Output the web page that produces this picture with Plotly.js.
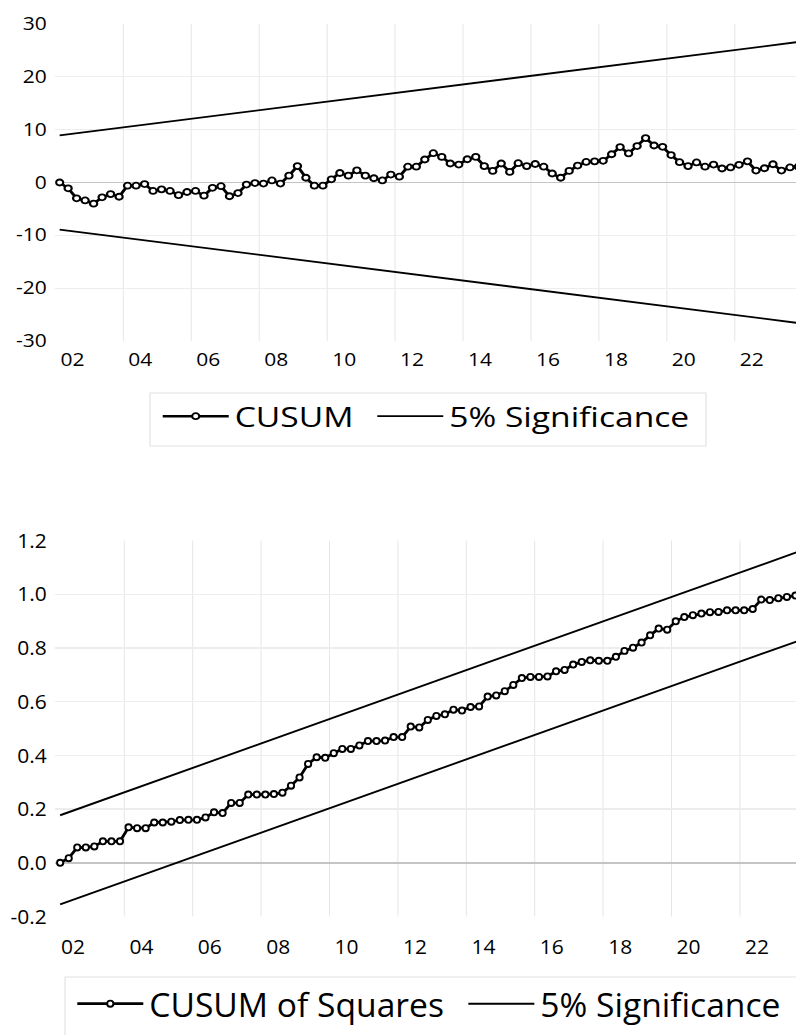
<!DOCTYPE html>
<html>
<head>
<meta charset="utf-8">
<script src="https://cdn.plot.ly/plotly-3.0.1.min.js"></script>
<style>
html,body{margin:0;padding:0;background:#fff;overflow:hidden;width:796px;height:1035px;position:relative}
#top{position:absolute;left:0;top:0;transform-origin:0 0;transform:scale(1.2,1)}
#bot{position:absolute;left:0;top:470px;transform-origin:0 0;transform:scale(1.2,1.175)}
</style>
</head>
<body>
<div id="top"></div>
<div id="bot"></div>
<script>
// ---- data (quarterly, 2002Q1 .. 2023Q4) ----
const startYear = 2002;
const nQuarters = 88;

const cusum = [
  0.0, -1.1, -3.0, -3.4, -4.0, -2.8, -2.2, -2.7, -0.6, -0.6,
  -0.3, -1.6, -1.3, -1.6, -2.4, -1.8, -1.6, -2.5, -1.0, -0.7,
  -2.6, -2.0, -0.4, -0.1, -0.2, 0.4, -0.2, 1.3, 3.1, 0.9,
  -0.6, -0.6, 0.6, 1.8, 1.3, 2.3, 1.3, 0.8, 0.4, 1.5,
  1.1, 3.0, 3.0, 4.35, 5.55, 4.85, 3.6, 3.4, 4.4, 4.85,
  3.1, 2.2, 3.6, 2.0, 3.65, 3.1, 3.5, 3.0, 1.7, 0.9,
  2.2, 3.2, 3.9, 4.0, 4.1, 5.35, 6.7, 5.5, 6.9, 8.4,
  7.0, 6.75, 5.2, 3.85, 3.1, 3.8, 3.0, 3.4, 2.65, 2.85,
  3.35, 4.0, 2.25, 2.7, 3.45, 2.25, 2.85, 3.0
];
const cusumUpper = [8.9, 26.6];
const cusumLower = [-8.9, -26.6];

const cusumSq = [
  0.000, 0.017, 0.057, 0.057, 0.061, 0.080, 0.080, 0.080, 0.132, 0.129,
  0.129, 0.150, 0.150, 0.153, 0.159, 0.160, 0.160, 0.169, 0.188, 0.185,
  0.223, 0.223, 0.254, 0.254, 0.254, 0.256, 0.261, 0.287, 0.318, 0.368,
  0.393, 0.391, 0.408, 0.424, 0.424, 0.437, 0.453, 0.453, 0.455, 0.468,
  0.468, 0.507, 0.504, 0.532, 0.547, 0.553, 0.570, 0.567, 0.580, 0.582,
  0.619, 0.623, 0.639, 0.662, 0.688, 0.692, 0.692, 0.694, 0.713, 0.718,
  0.738, 0.748, 0.754, 0.752, 0.752, 0.767, 0.789, 0.801, 0.820, 0.847,
  0.872, 0.868, 0.899, 0.915, 0.922, 0.928, 0.933, 0.934, 0.940, 0.940,
  0.940, 0.945, 0.980, 0.978, 0.985, 0.990, 0.995, 1.000
];
const sqUpper = [0.177, 1.166];
const sqLower = [-0.155, 0.834];

const xTickLabels = ['02','04','06','08','10','12','14','16','18','20','22'];
const cusumTickVals = [-30,-20,-10,0,10,20,30];
const cusumTickText = ['-30','-20','-10','0','10','20','30'];
const sqTickVals = [-0.2,0,0.2,0.4,0.6,0.8,1.0,1.2];
const sqTickText = ['-0.2','0.0','0.2','0.4','0.6','0.8','1.0','1.2'];
const legendNames = ['CUSUM','CUSUM of Squares','5% Significance'];

// ---- derived positions ----
const xq = [];
for (let i = 0; i < nQuarters; i++) xq.push(startYear + 0.125 + 0.25 * i);
const xEnds = [xq[0], xq[xq.length - 1]];
const labelPos = xTickLabels.map((t, k) => startYear + 2 * k + 0.5);
const gridPos = xTickLabels.slice(1).map((t, k) => startYear + 2 * (k + 1));

const FONT = 'Open Sans, Lato, sans-serif';
const W = 664;
const TICKFONT = {family: FONT, size: 17.5, color: '#000'};
const LEGFONT = {family: FONT, size: 28, color: '#000'};

function xaxis(range, standoff) {
  return {
    range: range, showgrid: false, zeroline: false, showline: false,
    tickmode: 'array', tickvals: labelPos, ticktext: xTickLabels, ticks: '',
    ticklabelstandoff: standoff, tickfont: TICKFONT,
    minor: {tickmode: 'array', tickvals: gridPos, showgrid: true,
            gridcolor: '#e6e6e6', gridwidth: 0.85, ticks: ''}
  };
}
function yaxis(range, vals, text) {
  return {
    range: range, tickmode: 'array', tickvals: vals, ticktext: text,
    ticks: '', showline: false, gridcolor: '#ededed', gridwidth: 1,
    zeroline: true, zerolinecolor: '#c4c4c4', zerolinewidth: 1.4,
    ticklabelstandoff: 6, tickfont: TICKFONT
  };
}
function legend(x, y, iw) {
  return {orientation: 'h', x: x, y: y, xanchor: 'left', yanchor: 'top',
          bgcolor: 'rgba(0,0,0,0)', borderwidth: 0, font: LEGFONT, itemwidth: iw};
}
function box(x0, x1, y0, y1) {
  return {type: 'rect', xref: 'paper', yref: 'paper', x0: x0, x1: x1, y0: y0, y1: y1,
          line: {color: '#e2e2e2', width: 1}, fillcolor: 'rgba(0,0,0,0)', layer: 'below'};
}

// ---- top chart: CUSUM ----
const topTraces = [
  {x: xq, y: cusum, name: legendNames[0], type: 'scatter', mode: 'lines+markers',
   line: {color: '#000', width: 2.6}, legend: 'legend',
   marker: {symbol: 'circle', size: 6, color: '#fff', line: {color: '#000', width: 1.8}}},
  {x: xEnds, y: cusumUpper, name: legendNames[2], type: 'scatter', mode: 'lines',
   line: {color: '#000', width: 1.8}, legendgroup: 'sig', legend: 'legend2'},
  {x: xEnds, y: cusumLower, name: legendNames[2], type: 'scatter', mode: 'lines',
   line: {color: '#000', width: 1.8}, legendgroup: 'sig', legend: 'legend2', showlegend: false}
];
const topLayout = {
  width: W, height: 470,
  margin: {l: 46, r: 0, t: 24, b: 129},
  paper_bgcolor: '#fff', plot_bgcolor: '#fff',
  font: {family: FONT, color: '#000'},
  xaxis: xaxis([2001.994, 2023.826], 7),
  yaxis: yaxis([-30, 30], cusumTickVals, cusumTickText),
  showlegend: true,
  legend: legend(0.1369, -0.1593, 55),
  legend2: legend(0.4262, -0.1593, 55),
  shapes: [box(0.1278, 0.8775, -0.164, -0.3312)]
};

// ---- bottom chart: CUSUM of squares ----
const botTraces = [
  {x: xq, y: cusumSq, name: legendNames[1], type: 'scatter', mode: 'lines+markers',
   line: {color: '#000', width: 2.4}, legend: 'legend',
   marker: {symbol: 'circle', size: 5.2, color: '#fff', line: {color: '#000', width: 1.6}}},
  {x: xEnds, y: sqUpper, name: legendNames[2], type: 'scatter', mode: 'lines',
   line: {color: '#000', width: 1.6}, legendgroup: 'sig', legend: 'legend2'},
  {x: xEnds, y: sqLower, name: legendNames[2], type: 'scatter', mode: 'lines',
   line: {color: '#000', width: 1.6}, legendgroup: 'sig', legend: 'legend2', showlegend: false}
];
const botLayout = {
  width: W, height: 481,
  margin: {l: 46, r: 0, t: 60, b: 101},
  paper_bgcolor: '#fff', plot_bgcolor: '#fff',
  font: {family: FONT, color: '#000'},
  xaxis: xaxis([2001.98, 2023.664], 13),
  yaxis: yaxis([-0.2, 1.2], sqTickVals, sqTickText),
  showlegend: true,
  legend: legend(0.0217, -0.1547, 55),
  legend2: legend(0.549, -0.1547, 55),
  shapes: [box(0.0133, 1.02, -0.161, -0.3266)]
};

const cfg = {displayModeBar: false, staticPlot: true};
Plotly.newPlot('top', topTraces, topLayout, cfg);
Plotly.newPlot('bot', botTraces, botLayout, cfg);
</script>
</body>
</html>
